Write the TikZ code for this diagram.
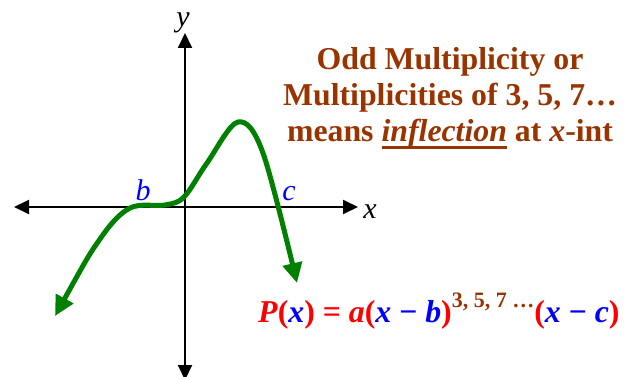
\documentclass[tikz,border=0pt]{standalone}
\usepackage{fontspec}
\setmainfont{Liberation Serif}
\usepackage{xcolor}
\usetikzlibrary{arrows.meta}
\definecolor{txtbrown}{RGB}{153,51,0}
\definecolor{eqred}{RGB}{255,0,0}
\definecolor{eqblue}{RGB}{0,0,255}
\definecolor{curvegreen}{RGB}{0,128,0}
\newcommand{\rd}[1]{\textcolor{eqred}{#1}}
\newcommand{\bl}[1]{\textcolor{eqblue}{#1}}
\newcommand{\thickul}[1]{\setbox0\hbox{#1}\rlap{\rule[-7pt]{\wd0}{2.5pt}}\box0\relax}

\begin{document}
\begin{tikzpicture}[x=1pt,y=-1pt,>={Triangle[length=15pt,width=14pt]},
  axis/.style={line width=2pt,<->},
  lbl/.style={inner sep=0,anchor=base,font=\fontsize{30}{30}\selectfont\itshape}]
\useasboundingbox (0,0) rectangle (626,377);
% axes
\coordinate (xl) at (14,207);
\coordinate (xr) at (358,207);
\coordinate (yt) at (185,33);
\coordinate (yb) at (185,380);
\draw[axis] (xl) -- (xr);
\draw[axis] (yb) -- (yt);
\node[lbl] (xlab) at (370,218) {x};
\node[lbl] (ylab) at (183,27) {y};
\node[lbl,eqblue] (blab) at (143,200) {b};
\node[lbl,eqblue] (clab) at (289,200) {c};
% graph
\draw[curvegreen,line width=5pt,{Triangle[length=20pt,width=19pt]}-{Triangle[length=20pt,width=19pt]}]
  plot[smooth,tension=0.55] coordinates {(55,316) (100,239) (130,208)
  (165,205) (184,197) (207,163) (238,122) (263,153) (297,283)};
% text
\node[inner sep=0,anchor=north,align=center,txtbrown,
  font=\fontsize{31.8}{36}\selectfont\bfseries] (rule) at (450,47.5)
  {Odd Multiplicity or\\Multiplicities of 3, 5, 7…\\means \thickul{\itshape inflection} at \textit{x}-int};
\node[inner sep=0,anchor=base west,font=\fontsize{31.8}{36}\selectfont\bfseries] (eq) at (258,322)
  {\rd{\textit{P}(}\bl{\textit{x}}\rd{) = \textit{a}(}\bl{\textit{x} − \textit{b}}\rd{)}\raisebox{15pt}{\fontsize{22}{22}\selectfont\textcolor{txtbrown}{3, 5, 7 …}}\rd{(}\bl{\textit{x} − \textit{c}}\rd{)}};
\end{tikzpicture}
\end{document}
